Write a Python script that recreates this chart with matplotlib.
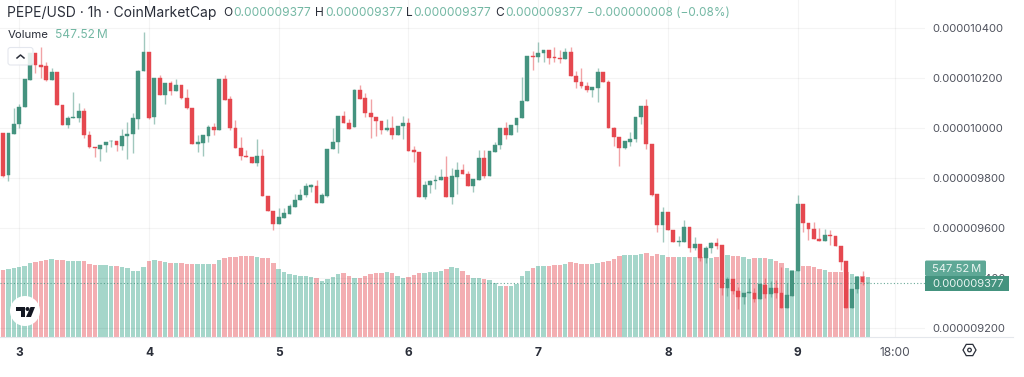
import matplotlib
matplotlib.use('Agg')
from matplotlib import pyplot as plt
from matplotlib.patches import Circle, FancyBboxPatch, Polygon, Rectangle, RegularPolygon
import numpy as np

# prices are in units of 1e-9 USD, volumes in millions
opens = [
    9977, 9810, 9974, 10013, 10081, 10190, 10297, 10250, 10246, 10190,
    10223, 10090, 10010, 10037, 10037, 10067, 9969, 9922, 9914, 9931,
    9945, 9946, 9927, 9966, 9973, 10034, 10227, 10302, 10043, 10199,
    10130, 10177, 10147, 10171, 10117, 10077, 9933, 9939, 9967, 10003,
    9990, 10193, 10113, 9998, 9917, 9886, 9881, 9857, 9886, 9726,
    9667, 9614, 9639, 9654, 9683, 9709, 9730, 9763, 9766, 9697,
    9727, 9913, 9941, 10046, 10019, 10001, 10150, 10117, 10059, 10043,
    10026, 9989, 9998, 9971, 10006, 10019, 9909, 9902, 9723, 9770,
    9788, 9789, 9801, 9723, 9803, 9831, 9815, 9766, 9791, 9879,
    9806, 9902, 9930, 9997, 9970, 10009, 10038, 10106, 10286, 10281,
    10297, 10311, 10281, 10278, 10274, 10301, 10206, 10182, 10167, 10151,
    10159, 10223, 10181, 9998, 9963, 9918, 9943, 9954, 10043, 10086,
    9933, 9733, 9609, 9663, 9589, 9542, 9541, 9603, 9517, 9534,
    9478, 9518, 9538, 9529, 9358, 9393, 9347, 9323, 9338, 9339,
    9314, 9371, 9334, 9358, 9338, 9278, 9326, 9426, 9694, 9617,
    9593, 9554, 9546, 9570, 9566, 9525, 9466, 9278, 9354, 9403, 9377]
closes = [
    9807, 9977, 10013, 10081, 10193, 10297, 10250, 10241, 10190, 10222,
    10090, 10010, 10037, 10041, 10067, 9969, 9921, 9917, 9931, 9943,
    9947, 9929, 9966, 9974, 10037, 10227, 10302, 10039, 10199, 10130,
    10177, 10147, 10170, 10117, 10077, 9933, 9941, 9969, 10003, 9990,
    10193, 10110, 9997, 9917, 9886, 9881, 9857, 9886, 9726, 9667,
    9614, 9641, 9657, 9686, 9710, 9731, 9766, 9769, 9697, 9730,
    9913, 9941, 10046, 10019, 9995, 10150, 10115, 10059, 10043, 10027,
    9989, 9998, 9971, 10005, 10019, 9907, 9902, 9723, 9770, 9786,
    9791, 9801, 9723, 9806, 9831, 9814, 9766, 9793, 9879, 9806,
    9906, 9930, 9998, 9970, 10010, 10038, 10106, 10286, 10283, 10297,
    10311, 10278, 10277, 10274, 10301, 10206, 10182, 10166, 10150, 10161,
    10223, 10181, 9997, 9963, 9918, 9945, 9954, 10043, 10086, 9933,
    9731, 9609, 9663, 9589, 9541, 9546, 9603, 9517, 9534, 9477,
    9518, 9537, 9526, 9358, 9393, 9347, 9323, 9337, 9342, 9314,
    9373, 9334, 9359, 9338, 9278, 9329, 9427, 9694, 9617, 9593,
    9554, 9545, 9570, 9566, 9525, 9463, 9277, 9354, 9402, 9382, 9377]
highs = [
    9979, 9977, 10079, 10094, 10193, 10300, 10297, 10321, 10263, 10237,
    10223, 10090, 10046, 10141, 10099, 10077, 9986, 9922, 9931, 9943,
    9950, 9946, 9993, 10023, 10057, 10230, 10382, 10302, 10199, 10210,
    10177, 10187, 10193, 10171, 10153, 10077, 9970, 9969, 10010, 10019,
    10193, 10210, 10127, 10030, 9961, 9910, 9881, 9953, 9914, 9726,
    9667, 9677, 9677, 9694, 9734, 9755, 9779, 9774, 9790, 9737,
    9913, 9997, 10046, 10065, 10034, 10153, 10170, 10139, 10115, 10043,
    10026, 10033, 10047, 10005, 10046, 10039, 9926, 9902, 9786, 9791,
    9810, 9833, 9886, 9839, 9861, 9853, 9826, 9793, 9910, 9910,
    9906, 9943, 9998, 10021, 10010, 10038, 10203, 10286, 10306, 10343,
    10311, 10311, 10323, 10310, 10317, 10323, 10227, 10237, 10181, 10161,
    10239, 10223, 10190, 10003, 9963, 9945, 9981, 10043, 10086, 10113,
    9933, 9733, 9683, 9663, 9589, 9566, 9629, 9603, 9563, 9534,
    9527, 9541, 9557, 9529, 9401, 9393, 9361, 9337, 9397, 9357,
    9373, 9397, 9386, 9390, 9442, 9377, 9427, 9730, 9694, 9617,
    9621, 9598, 9594, 9591, 9566, 9525, 9466, 9354, 9406, 9425, 9377]
lows = [
    9803, 9787, 9974, 9997, 10081, 10190, 10219, 10197, 10186, 10190,
    10090, 10010, 9999, 10037, 10021, 9957, 9917, 9883, 9867, 9903,
    9921, 9907, 9910, 9873, 9899, 9993, 10227, 10033, 10013, 10130,
    10094, 10130, 10147, 10114, 10074, 9933, 9903, 9887, 9943, 9970,
    9990, 10110, 9990, 9917, 9870, 9881, 9857, 9847, 9726, 9667,
    9590, 9614, 9639, 9654, 9683, 9709, 9721, 9742, 9697, 9697,
    9722, 9913, 9899, 10019, 9995, 10001, 10115, 10043, 9959, 9966,
    9975, 9987, 9953, 9971, 9953, 9907, 9863, 9723, 9713, 9739,
    9753, 9789, 9723, 9693, 9735, 9814, 9766, 9742, 9791, 9799,
    9806, 9902, 9914, 9954, 9970, 9982, 10038, 10106, 10230, 10263,
    10263, 10253, 10263, 10257, 10274, 10206, 10157, 10157, 10143, 10123,
    10103, 10181, 9997, 9927, 9847, 9913, 9927, 9943, 10014, 9913,
    9727, 9581, 9543, 9589, 9541, 9526, 9541, 9503, 9510, 9465,
    9459, 9499, 9513, 9331, 9326, 9334, 9274, 9293, 9338, 9303,
    9314, 9317, 9322, 9318, 9278, 9278, 9326, 9426, 9583, 9550,
    9554, 9545, 9546, 9530, 9525, 9430, 9277, 9278, 9339, 9370, 9377]
volumes = [
    608, 617, 632, 641, 651, 672, 681, 693, 702, 708,
    705, 705, 693, 696, 693, 690, 669, 657, 654, 657,
    648, 644, 635, 629, 605, 605, 635, 693, 699, 693,
    684, 672, 672, 672, 663, 666, 669, 663, 663, 666,
    702, 720, 730, 733, 739, 742, 742, 727, 724, 724,
    675, 617, 593, 572, 562, 559, 559, 547, 535, 514,
    529, 547, 575, 587, 553, 538, 541, 559, 575, 581,
    581, 590, 581, 553, 541, 544, 562, 581, 587, 593,
    593, 602, 620, 635, 626, 599, 562, 541, 541, 529,
    520, 492, 468, 465, 468, 480, 553, 599, 626, 644,
    644, 648, 654, 657, 663, 681, 672, 669, 663, 663,
    672, 684, 693, 708, 742, 745, 745, 751, 754, 769,
    736, 754, 751, 733, 733, 733, 730, 727, 733, 727,
    720, 720, 727, 727, 751, 742, 736, 727, 714, 720,
    724, 724, 714, 693, 678, 626, 608, 599, 651, 644,
    635, 623, 614, 596, 590, 593, 590, 578, 559, 556, 547.52]

time_ticks = [3, 27, 51, 75, 99, 123, 147, 165]
time_labels = ['3', '4', '5', '6', '7', '8', '9', '18:00']
price_ticks = [9200, 9400, 9600, 9800, 10000, 10200, 10400]
price_labels = ['0.000009200', '0.000009400', '0.000009600', '0.000009800',
                '0.000010000', '0.000010200', '0.000010400']
last_price = 9377

GREEN = '#44937f'
RED = '#e5484f'
TEXT = '#50535e'
HEADER_GREEN = '#74b8a4'

plt.rcParams['font.family'] = ['Inter', 'DejaVu Sans']

fig = plt.figure(figsize=(10.24, 3.77), dpi=100)
rect = [0, 40 / 377, 925 / 1024, 337 / 377]

x = np.arange(len(opens))
o = np.array(opens)
c = np.array(closes)
up = c >= o
xlim = (-0.555, 170.55)

# volume goes underneath
ax_vol = fig.add_axes(rect, zorder=1)
ax_vol.bar(x, volumes, width=0.82,
           color=np.where(up, '#a5d6ca', '#f3aeb2'), linewidth=0)
ax_vol.set_xlim(xlim)
ax_vol.set_ylim(0, 3075)
ax_vol.axis('off')

ax = fig.add_axes(rect, zorder=2)
ax.patch.set_alpha(0)
ax.set_xlim(xlim)
ax.set_ylim(9162, 10510)
for side in ax.spines:
    ax.spines[side].set_visible(False)
ax.grid(True, color='black', alpha=0.045, linewidth=0.9)
ax.set_axisbelow(True)

ax.vlines(x, lows, highs, colors=np.where(up, GREEN, RED), linewidth=1.0, alpha=0.5, zorder=3)
ax.bar(x, np.abs(c - o), bottom=np.minimum(o, c), width=0.7,
       color=np.where(up, GREEN, RED), edgecolor=np.where(up, GREEN, RED),
       linewidth=0.3, zorder=4)
ax.axhline(last_price, color=GREEN, linewidth=0.8, linestyle=(0, (1, 2)), alpha=0.8, zorder=2)

ax.set_xticks(time_ticks, time_labels)
for lab in ax.get_xticklabels():
    lab.set_fontweight('bold' if lab.get_text() != '18:00' else 'normal')
    lab.set_color('#2a2e39' if lab.get_text() != '18:00' else TEXT)
ax.tick_params(axis='x', length=0, pad=7.5, labelsize=8.6)
ax.yaxis.tick_right()
ax.set_yticks(price_ticks, price_labels)
ax.tick_params(axis='y', length=0, pad=5.5, labelsize=8.05, labelcolor=TEXT)

# overlay in pixel coordinates for header, badges and icons
over = fig.add_axes([0, 0, 1, 1], zorder=3)
over.set_xlim(0, 1024)
over.set_ylim(377, 0)
over.axis('off')

over.plot([0, 1013], [337, 337], color='#e4e7ec', linewidth=0.8)

over.text(7, 13, 'PEPE/USD · 1h · CoinMarketCap', fontsize=10, color='#2a2e39', va='center')
for px, lab, val in [(223, 'O', '0.000009377'), (315, 'H', '0.000009377'),
                     (406, 'L', '0.000009377'), (495.5, 'C', '0.000009377')]:
    over.text(px, 13, lab, fontsize=8.6, color='#2a2e39', va='center')
    over.text(px + 10 - (2.5 if lab == 'L' else 0), 13, val, fontsize=8.6, color=HEADER_GREEN, va='center')
over.text(587, 13, '\u22120.000000008 (\u22120.08%)', fontsize=8.5, color=HEADER_GREEN, va='center')
over.text(8, 34.5, 'Volume', fontsize=8.2, color='#2a2e39', va='center')
over.text(55, 34.5, '547.52\u2009M', fontsize=8.6, color=HEADER_GREEN, va='center')

# collapse button
over.add_patch(FancyBboxPatch((8, 47.5), 25, 17.5, boxstyle='round,pad=0,rounding_size=2.5',
                              facecolor='white', edgecolor='#e0e3eb', linewidth=0.8, alpha=0.85))
over.plot([17, 20.5, 24], [58, 55, 58], color='#2a2e39', linewidth=1.1)

# TradingView logo
over.add_patch(Circle((25, 311), 15, facecolor='white', edgecolor='none'))
over.add_patch(Polygon([(16, 307), (25, 307), (25, 317), (20.5, 317), (20.5, 311), (16, 311)],
                       facecolor='#131722', edgecolor='none'))
over.add_patch(Circle((27.5, 309), 2, facecolor='#131722', edgecolor='none'))
over.add_patch(Polygon([(30.5, 307), (35, 307), (31, 317), (26, 317)],
                       facecolor='#131722', edgecolor='none'))

# settings icon
over.add_patch(RegularPolygon((969.5, 350), 6, radius=6.5, orientation=np.pi / 2,
                              facecolor='white', edgecolor='#2a2e39', linewidth=0.9))
over.add_patch(Circle((969.5, 350), 1.8, facecolor='white', edgecolor='#2a2e39', linewidth=0.9))

# price badges
over.add_patch(FancyBboxPatch((925, 260.5), 61, 15.5, boxstyle='round,pad=0,rounding_size=1.5',
                              facecolor='#5ea896', edgecolor='none'))
over.text(932.5, 268.5, '547.52\u2009M', fontsize=8.05, color='#e9f4f1', va='center')
over.add_patch(Rectangle((925, 276), 84, 15, facecolor=GREEN, edgecolor='none'))
over.text(932.5, 283.8, '0.000009377', fontsize=8.05, color='#e9f4f1', va='center')

fig.savefig('out.png', dpi=100)
plt.close(fig)
